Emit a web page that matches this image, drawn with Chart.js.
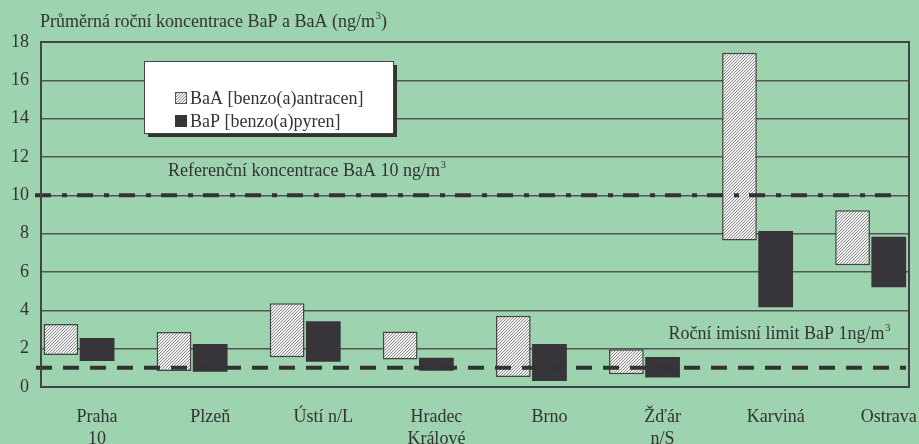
<!DOCTYPE html>
<html>
<head>
<meta charset="utf-8">
<script src="https://cdn.jsdelivr.net/npm/chart.js@4"></script>
<style>
  html, body { margin: 0; padding: 0; background: #9dd3ae; }
  #wrap { width: 919px; height: 444px; }
</style>
</head>
<body>
<div id="wrap"><canvas id="graf" width="919" height="444"></canvas></div>
<script>
// data vycteny z obrazku
const mesta = [['Praha', '10'], 'Plzeň', 'Ústí n/L', ['Hradec', 'Králové'], 'Brno', ['Žďár', 'n/S'], 'Karviná', 'Ostrava'];
const baaOd = [1.67, 0.83, 1.55, 1.44, 0.52, 0.66, 7.65, 6.35];
const baaDo = [3.29, 2.87, 4.37, 2.90, 3.72, 1.97, 17.44, 9.22];
const bapOd = [1.36, 0.80, 1.32, 0.85, 0.31, 0.49, 4.16, 5.20];
const bapDo = [2.56, 2.24, 3.43, 1.53, 2.24, 1.56, 8.14, 7.84];
const yTicks = [0, 2, 4, 6, 8, 10, 12, 14, 16, 18];
const limitBaP = 1;
const referenceBaA = 10;

const font = "'Liberation Serif', 'Times New Roman', serif";
const textColor = '#333';

// sraffovani pro BaA
function vzorek() {
    const c = document.createElement('canvas');
    c.width = 3; c.height = 3;
    const g = c.getContext('2d');
    g.fillStyle = '#f2f2f2';
    g.fillRect(0, 0, 3, 3);
    g.fillStyle = '#8a8a8a';
    g.fillRect(2, 0, 1, 1);
    g.fillRect(1, 1, 1, 1);
    g.fillRect(0, 2, 1, 1);
    return g.createPattern(c, 'repeat');
}
const hatch = vzorek();

const barvaBaP = '#37353a';

// text s horním indexem "3" na konci (m3)
function textSIndexem(ctx, pred, za, x, y, align) {
    ctx.font = '18px ' + font;
    const w1 = ctx.measureText(pred).width;
    const w3 = (ctx.font = '11px ' + font, ctx.measureText('3').width);
    ctx.font = '18px ' + font;
    const w2 = ctx.measureText(za).width;
    let sx = align === 'right' ? x - (w1 + w3 + w2) : x;
    ctx.textAlign = 'left';
    ctx.fillText(pred, sx, y);
    ctx.font = '11px ' + font;
    ctx.fillText('3', sx + w1 + 0.5, y - 8);
    ctx.font = '18px ' + font;
    ctx.fillText(za, sx + w1 + w3 + 0.5, y);
}

const popisky = {
    id: 'popisky',
    afterDatasetsDraw(chart) {
        const ctx = chart.ctx;
        const a = chart.chartArea;
        const y = chart.scales.y;
        ctx.save();

        // referencni cary
        ctx.strokeStyle = '#333';
        ctx.lineWidth = 4;
        ctx.setLineDash([16, 11, 5, 10]);
        ctx.beginPath();
        ctx.moveTo(35, y.getPixelForValue(referenceBaA));
        ctx.lineTo(900, y.getPixelForValue(referenceBaA));
        ctx.stroke();

        ctx.setLineDash([16, 11]);
        ctx.beginPath();
        ctx.moveTo(36, y.getPixelForValue(limitBaP));
        ctx.lineTo(906, y.getPixelForValue(limitBaP));
        ctx.stroke();
        ctx.setLineDash([]);

        // ramecek grafu
        ctx.strokeStyle = '#444';
        ctx.lineWidth = 2;
        ctx.strokeRect(a.left, a.top, a.right - a.left, a.bottom - a.top);

        // texty
        ctx.fillStyle = textColor;
        ctx.textBaseline = 'alphabetic';
        textSIndexem(ctx, 'Průměrná roční koncentrace BaP a BaA (ng/m', ')', 40, 27, 'left');
        textSIndexem(ctx, 'Referenční koncentrace BaA 10 ng/m', '', 168, y.getPixelForValue(referenceBaA) - 19, 'left');
        textSIndexem(ctx, 'Roční imisní limit BaP 1ng/m', '', 890, y.getPixelForValue(limitBaP) - 29, 'right');

        // legenda
        const lx = 144, ly = 61, lw = 249, lh = 72;
        ctx.fillStyle = '#333';
        ctx.fillRect(lx + 4, ly + 4, lw, lh);
        ctx.fillStyle = '#fff';
        ctx.fillRect(lx, ly, lw, lh);
        ctx.strokeStyle = '#444';
        ctx.lineWidth = 1;
        ctx.strokeRect(lx + 0.5, ly + 0.5, lw, lh);

        ctx.font = '18px ' + font;
        ctx.textAlign = 'left';
        ctx.textBaseline = 'middle';
        chart.data.datasets.forEach((ds, i) => {
            const iy = 98 + i * 23;
            ctx.fillStyle = ds.backgroundColor;
            ctx.fillRect(175, iy - 6, 12, 12);
            if (i === 0) {
                ctx.strokeStyle = '#555';
                ctx.strokeRect(175.5, iy - 5.5, 11, 11);
            }
            ctx.fillStyle = textColor;
            ctx.fillText(ds.label, 190, iy + 1);
        });
        ctx.restore();
    }
};

const labelShift = 0.16;
const xMin = -0.336, xMax = 7.339;

new Chart(document.getElementById('graf').getContext('2d'), {
    type: 'bar',
    data: {
        datasets: [
            {
                label: 'BaA [benzo(a)antracen]',
                data: mesta.map((m, i) => ({ x: i, y: [baaOd[i], baaDo[i]] })),
                backgroundColor: hatch,
                borderColor: '#444',
                borderWidth: 1.5,
                borderSkipped: false
            },
            {
                label: 'BaP [benzo(a)pyren]',
                data: mesta.map((m, i) => ({ x: i, y: [bapOd[i], bapDo[i]] })),
                backgroundColor: barvaBaP,
                borderWidth: 0
            }
        ]
    },
    options: {
        responsive: false,
        animation: false,
        categoryPercentage: 0.64,
        barPercentage: 0.96,
        layout: { padding: { top: 42, right: 10, left: 0, bottom: 0 } },
        plugins: {
            legend: { display: false },
            tooltip: { enabled: false }
        },
        scales: {
            x: {
                type: 'linear',
                offset: false,
                bounds: 'data',
                min: xMin,
                max: xMax,
                grid: { display: false, drawTicks: false, offset: false },
                border: { display: false },
                afterBuildTicks: (s) => {
                    s.ticks = mesta.map((m, i) => ({ value: i + labelShift }));
                    s.min = xMin;
                    s.max = xMax;
                },
                afterFit: (s) => { s.height = 57; s.paddingLeft = 0; s.paddingRight = 0; },
                ticks: {
                    autoSkip: false,
                    maxRotation: 0,
                    padding: 19,
                    color: textColor,
                    font: { family: font, size: 18, lineHeight: 1.22 },
                    callback: (v, i) => mesta[i]
                }
            },
            y: {
                min: 0,
                max: 18,
                afterBuildTicks: (s) => { s.ticks = yTicks.map(v => ({ value: v })); },
                afterFit: (s) => { s.width = 41; },
                grid: { color: '#555', lineWidth: 1.5, drawTicks: false },
                border: { display: false },
                ticks: {
                    padding: 12,
                    color: textColor,
                    font: { family: font, size: 18 }
                }
            }
        }
    },
    plugins: [popisky]
});
</script>
</body>
</html>
